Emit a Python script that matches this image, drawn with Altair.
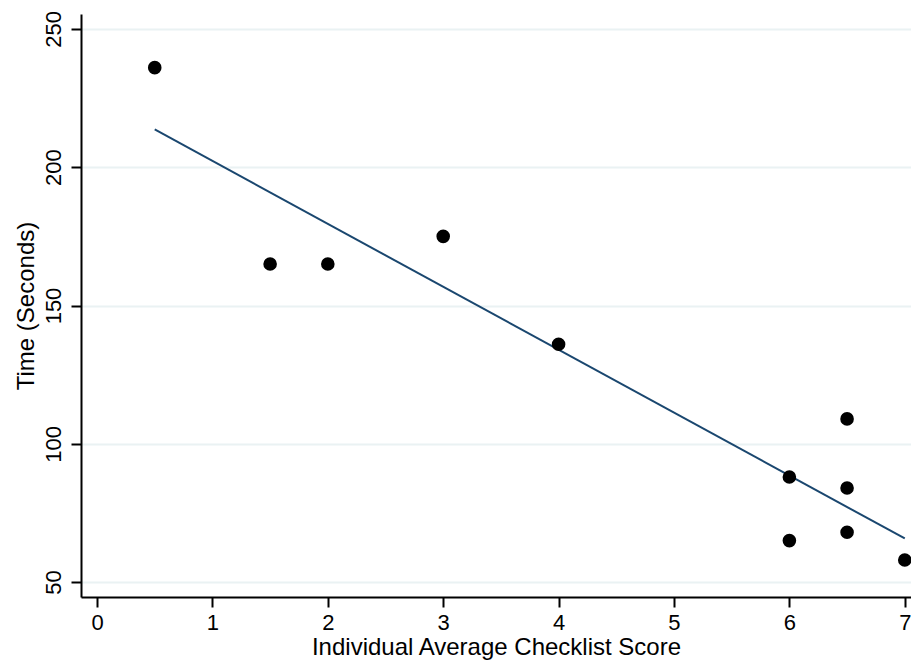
import altair as alt
import pandas as pd

score = [0.5, 1.5, 2, 3, 4, 6, 6, 6.5, 6.5, 6.5, 7]
seconds = [236, 165, 165, 175, 136, 88, 65, 109, 84, 68, 58]
x_ticks = [0, 1, 2, 3, 4, 5, 6, 7]
y_ticks = [50, 100, 150, 200, 250]

df = pd.DataFrame({"score": score, "seconds": seconds})

FONT = "Liberation Sans"

x_enc = alt.X(
    "score:Q",
    title="Individual Average Checklist Score",
    scale=alt.Scale(domain=[-0.139, 7.054], nice=False, zero=False),
    axis=alt.Axis(values=x_ticks, format="d", grid=False, labelPadding=5, titlePadding=2),
)
y_enc = alt.Y(
    "seconds:Q",
    title="Time (Seconds)",
    scale=alt.Scale(domain=[44.6, 255.4], nice=False, zero=False),
    axis=alt.Axis(
        values=y_ticks,
        format="d",
        grid=True,
        labelAngle=270,
        labelAlign="center",
        labelBaseline="bottom",
        labelPadding=6,
        titlePadding=4,
    ),
)

points = alt.Chart(df).mark_circle(size=185, color="black", opacity=1, clip=False).encode(
    x=x_enc, y=y_enc
)

fit = (
    alt.Chart(df)
    .transform_regression("score", "seconds")
    .mark_line(color="#1a476f", strokeWidth=2)
    .encode(x=x_enc, y=y_enc)
)

chart = (
    alt.layer(fit, points)
    .properties(
        width=830,
        height=583,
        autosize=alt.AutoSizeParams(type="none"),
        padding={"left": 73, "top": 6, "right": 0, "bottom": 67},
        background="white",
    )
    .configure_view(stroke=None)
    .configure_axis(
        domainColor="black",
        domainWidth=2,
        tickColor="black",
        tickWidth=2,
        tickSize=10,
        labelFont=FONT,
        labelFontSize=22,
        labelColor="black",
        titleFont=FONT,
        titleFontSize=24,
        titleFontWeight="normal",
        titleColor="black",
        gridColor="#eaf2f3",
        gridWidth=2,
        gridOpacity=1,
    )
)

chart.save("out.html", embed_options={"renderer": "svg", "actions": False})
